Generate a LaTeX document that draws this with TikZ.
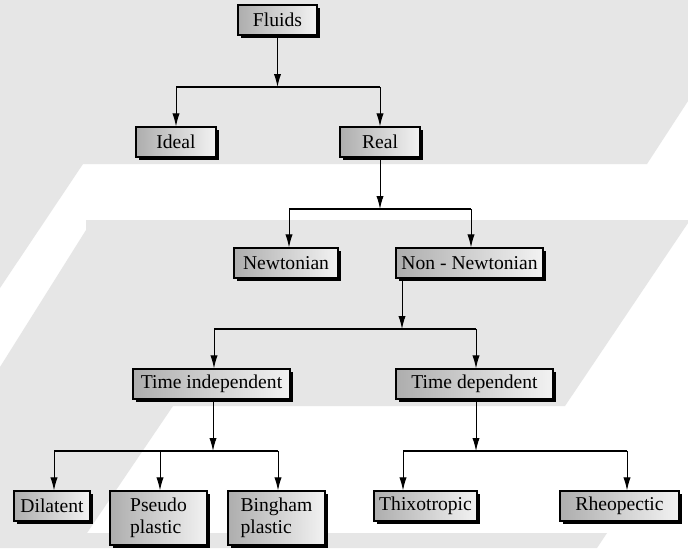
\documentclass[tikz,border=0pt]{standalone}
\usepackage{fontspec}
\setmainfont{Liberation Serif}
\usetikzlibrary{arrows.meta,shadows}
\definecolor{bggray}{RGB}{230,230,230}
\begin{document}
\begin{tikzpicture}[x=0.5pt,y=-0.5pt,
  box/.style={draw=black, line width=0.6pt, left color=black!32, right color=black!5,
    inner sep=0pt, font=\fontsize{9.8pt}{11pt}\selectfont, minimum height=15pt,
    drop shadow={shadow xshift=1.3pt, shadow yshift=-1.3pt, fill=black, opacity=1}},
  stem/.style={line width=0.5pt, black},
  bus/.style={line width=1pt, black},
  arr/.style={stem, -{Latex[length=6.5pt,width=3.6pt]}}]
\useasboundingbox (0,0) rectangle (688,548);
% background watermark
\fill[white] (0,0) rectangle (688,548);
\fill[bggray] (0,0) -- (688,0) -- (688,101) -- (647,164) -- (83,164) -- (0,288) -- cycle;
\fill[bggray] (86,220) -- (688,220) -- (688,223) -- (565,406) -- (173,406) -- (87,533)
  -- (607,533) -- (597,548) -- (0,548) -- (0,367) -- (86,230) -- cycle;
% nodes
\node[box, minimum width=39.5pt] (fluids) at (277.5,20) {Fluids};
\node[box, minimum width=40pt] (ideal) at (176,142) {Ideal};
\node[box, minimum width=40pt] (real) at (380,142) {Real};
\node[box, minimum width=52pt] (newt) at (286,263) {Newtonian};
\node[box, minimum width=73.5pt] (nn) at (469.5,263) {Non - Newtonian};
\node[box, minimum width=78.5pt] (ti) at (211.5,384) {Time independent};
\node[box, minimum width=78.5pt] (td) at (474.5,384) {Time dependent};
\node[box, minimum width=38pt] (dil) at (52,506) {Dilatent};
\node[box, minimum width=48.5pt, minimum height=27pt, align=left] (pseudo) at (158.5,518) {Pseudo\\plastic};
\node[box, minimum width=48.5pt, minimum height=27pt, align=left] (bingham) at (276.5,518) {Bingham\\plastic};
\node[box, minimum width=51.5pt] (thixo) at (425.5,506) {Thixotropic};
\node[box, minimum width=59.5pt] (rheo) at (619.5,506) {Rheopectic};
% bus coordinates
\coordinate (b1L) at (176,87);  \coordinate (b1M) at (277.5,87); \coordinate (b1R) at (380,87);
\coordinate (b2L) at (289,209); \coordinate (b2M) at (380,209);   \coordinate (b2R) at (471,209);
\coordinate (b3L) at (214,329); \coordinate (b3M) at (402,329);   \coordinate (b3R) at (476,329);
\coordinate (b4L) at (54,451);  \coordinate (b4P) at (160,451);   \coordinate (b4M) at (213,451); \coordinate (b4R) at (278,451);
\coordinate (b5L) at (403,451); \coordinate (b5M) at (476,451);   \coordinate (b5R) at (627,451);
% level 1
\draw[arr] (fluids.south) -- (b1M);
\draw[bus] (b1L) -- (b1R);
\draw[arr] (b1L) -- (b1L |- ideal.north);
\draw[arr] (b1R) -- (b1R |- real.north);
% level 2
\draw[arr] (real.south) -- (b2M);
\draw[bus] (b2L) -- (b2R);
\draw[arr] (b2L) -- (b2L |- newt.north);
\draw[arr] (b2R) -- (b2R |- nn.north);
% level 3
\draw[arr] (nn.south -| b3M) -- (b3M);
\draw[bus] (b3L) -- (b3R);
\draw[arr] (b3L) -- (b3L |- ti.north);
\draw[arr] (b3R) -- (b3R |- td.north);
% level 4a
\draw[arr] (ti.south -| b4M) -- (b4M);
\draw[bus] (b4L) -- (b4R);
\draw[arr] (b4L) -- (b4L |- dil.north);
\draw[arr] (b4P) -- (b4P |- pseudo.north);
\draw[arr] (b4R) -- (b4R |- bingham.north);
% level 4b
\draw[arr] (td.south -| b5M) -- (b5M);
\draw[bus] (b5L) -- (b5R);
\draw[arr] (b5L) -- (b5L |- thixo.north);
\draw[arr] (b5R) -- (b5R |- rheo.north);
\end{tikzpicture}
\end{document}
